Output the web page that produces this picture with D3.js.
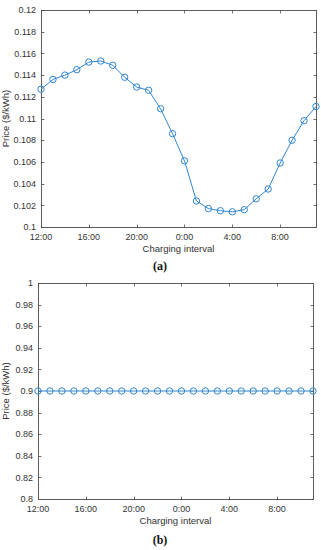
<!DOCTYPE html>
<html>
<head>
<meta charset="utf-8">
<script src="https://cdn.jsdelivr.net/npm/d3@7/dist/d3.min.js"></script>
<style>
  body { margin: 0; background: #fff; }
  svg { display: block; }
</style>
</head>
<body>
<svg id="chart" width="321" height="550"></svg>
<script>
// charging intervals, one per hour, starting at noon
var timeSlots = ["12:00", "13:00", "14:00", "15:00", "16:00", "17:00", "18:00", "19:00",
                 "20:00", "21:00", "22:00", "23:00", "0:00", "1:00", "2:00", "3:00",
                 "4:00", "5:00", "6:00", "7:00", "8:00", "9:00", "10:00", "11:00"];
var xTickLabels = ["12:00", "16:00", "20:00", "0:00", "4:00", "8:00"];

// (a) time of use price
var pricesA = [0.1127, 0.1136, 0.1140, 0.1145, 0.1152, 0.1153, 0.1149, 0.1138,
               0.1129, 0.1126, 0.1109, 0.1086, 0.1061, 0.1024, 0.1017, 0.1015,
               0.1014, 0.1016, 0.1026, 0.1035, 0.1059, 0.1080, 0.1098, 0.1111];
var yTicksA = [0.1, 0.102, 0.104, 0.106, 0.108, 0.11, 0.112, 0.114, 0.116, 0.118, 0.12];

// (b) flat price
var pricesB = [0.9, 0.9, 0.9, 0.9, 0.9, 0.9, 0.9, 0.9,
               0.9, 0.9, 0.9, 0.9, 0.9, 0.9, 0.9, 0.9,
               0.9, 0.9, 0.9, 0.9, 0.9, 0.9, 0.9, 0.9];
var yTicksB = [0.8, 0.82, 0.84, 0.86, 0.88, 0.9, 0.92, 0.94, 0.96, 0.98, 1];

var svg = d3.select("#chart");
var lineColor = "#2f86cf";
var axisColor = "#4d4d4d";
var font = "'Liberation Sans', Arial, Helvetica, sans-serif";

function drawPanel(cfg) {
    var x = d3.scaleLinear().domain([0, timeSlots.length - 1]).range([cfg.left, cfg.right]);
    var y = d3.scaleLinear().domain(cfg.yDomain).range([cfg.bottom, cfg.top]);
    var g = svg.append("g");

    var xTickIdx = xTickLabels.map(function (l) { return timeSlots.indexOf(l); });

    // box
    g.append("rect")
        .attr("x", cfg.left + 0.5)
        .attr("y", cfg.top + 0.5)
        .attr("width", cfg.right - cfg.left)
        .attr("height", cfg.bottom - cfg.top)
        .style("fill", "none")
        .style("stroke", axisColor)
        .style("stroke-width", 0.9);

    // inward ticks on all four sides
    var tl = 3;
    xTickIdx.forEach(function (i) {
        var px = Math.round(x(i)) + 0.5;
        g.append("line").attr("x1", px).attr("x2", px)
            .attr("y1", cfg.bottom + 0.5).attr("y2", cfg.bottom + 0.5 - tl)
            .style("stroke", axisColor).style("stroke-width", 0.8);
        g.append("line").attr("x1", px).attr("x2", px)
            .attr("y1", cfg.top + 0.5).attr("y2", cfg.top + 0.5 + tl)
            .style("stroke", axisColor).style("stroke-width", 0.8);
        g.append("text")
            .attr("x", x(i))
            .attr("y", cfg.bottom + 13)
            .attr("text-anchor", "middle")
            .style("font-family", font)
            .style("font-size", "9px")
            .style("fill", "#333")
            .text(timeSlots[i]);
    });
    cfg.yTicks.forEach(function (v) {
        var py = Math.round(y(v)) + 0.5;
        g.append("line").attr("x1", cfg.left + 0.5).attr("x2", cfg.left + 0.5 + tl)
            .attr("y1", py).attr("y2", py)
            .style("stroke", axisColor).style("stroke-width", 0.8);
        g.append("line").attr("x1", cfg.right + 0.5).attr("x2", cfg.right + 0.5 - tl)
            .attr("y1", py).attr("y2", py)
            .style("stroke", axisColor).style("stroke-width", 0.8);
        g.append("text")
            .attr("x", cfg.left - 5)
            .attr("y", y(v) + 3.2)
            .attr("text-anchor", "end")
            .style("font-family", font)
            .style("font-size", "9px")
            .style("fill", "#333")
            .text(d3.format("~g")(v));
    });

    // axis titles
    g.append("text")
        .attr("x", (cfg.left + cfg.right) / 2)
        .attr("y", cfg.bottom + 25)
        .attr("text-anchor", "middle")
        .style("font-family", font)
        .style("font-size", "9.5px")
        .style("fill", "#333")
        .text("Charging interval");
    g.append("text")
        .attr("transform", "translate(9," + (cfg.top + cfg.bottom) / 2 + ") rotate(-90)")
        .attr("text-anchor", "middle")
        .style("font-family", font)
        .style("font-size", "9.5px")
        .style("fill", "#333")
        .text("Price ($/kWh)");

    // series
    var line = d3.line()
        .x(function (d, i) { return x(i); })
        .y(function (d) { return y(d); });
    g.append("path")
        .datum(cfg.values)
        .attr("d", line)
        .style("fill", "none")
        .style("stroke", lineColor)
        .style("stroke-width", 1);
    g.selectAll("circle.pt")
        .data(cfg.values)
        .enter()
        .append("circle")
        .attr("class", "pt")
        .attr("cx", function (d, i) { return x(i); })
        .attr("cy", function (d) { return y(d); })
        .attr("r", 3.2)
        .style("fill", "none")
        .style("stroke", lineColor)
        .style("stroke-width", 1);

    // caption
    g.append("text")
        .attr("x", 160)
        .attr("y", cfg.captionY)
        .attr("text-anchor", "middle")
        .style("font-family", "'Liberation Serif', 'Times New Roman', serif")
        .style("font-weight", "bold")
        .style("font-size", "12px")
        .style("fill", "#111")
        .text(cfg.caption);
}

drawPanel({ left: 41, right: 316, top: 10, bottom: 227, yDomain: [0.1, 0.12],
            yTicks: yTicksA, values: pricesA, caption: "(a)", captionY: 270 });
drawPanel({ left: 38, right: 313, top: 283, bottom: 499, yDomain: [0.8, 1],
            yTicks: yTicksB, values: pricesB, caption: "(b)", captionY: 544 });
</script>
</body>
</html>
